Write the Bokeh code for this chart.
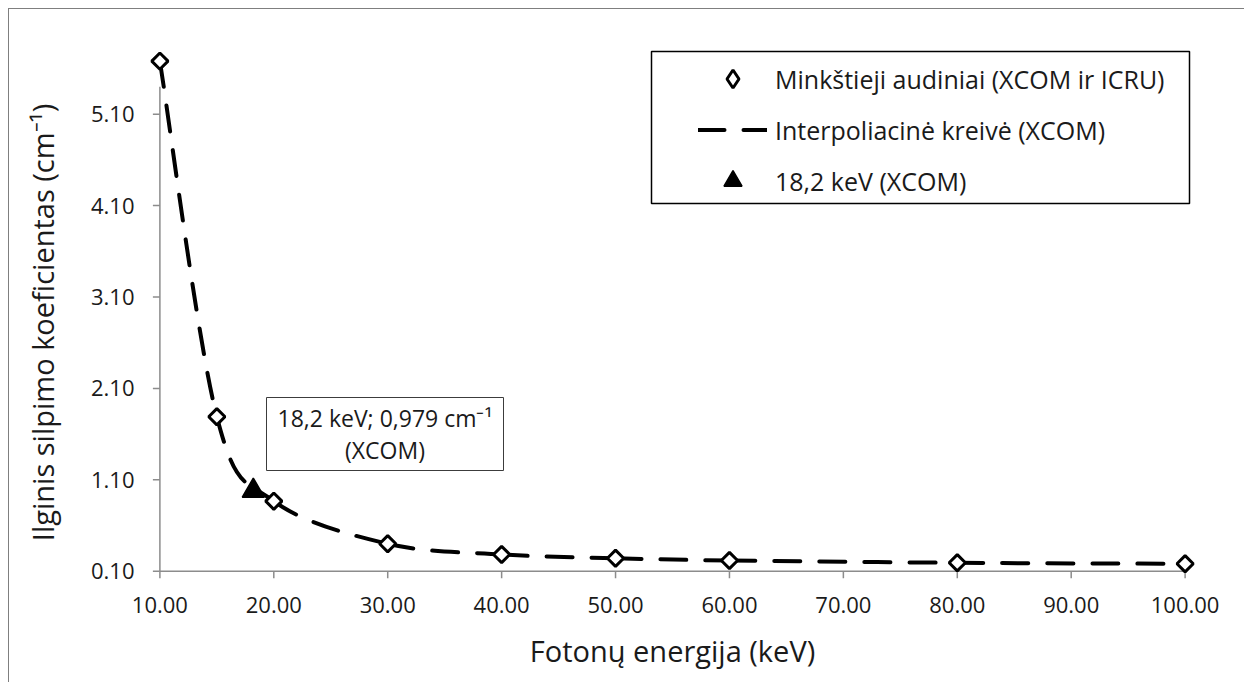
import numpy as np
from bokeh.plotting import figure
from bokeh.models import (Range1d, FixedTicker, NumeralTickFormatter, Legend,
                          LegendItem, BoxAnnotation, Label)
from bokeh.embed import file_html
from bokeh.resources import INLINE

# ---- data ----
energy_kev = [10, 15, 20, 30, 40, 50, 60, 80, 100]
mu_tissue = [5.68, 1.79, 0.866, 0.40, 0.283, 0.242, 0.217, 0.192, 0.181]
mark_energy = [18.2]
mark_mu = [0.979]
x_ticks = [10, 20, 30, 40, 50, 60, 70, 80, 90, 100]
y_ticks = [0.1, 1.1, 2.1, 3.1, 4.1, 5.1]
y_axis_max = 5.4

FONT = "Open Sans"
TXT = "#1a1a1a"
AX = "#8c8c8c"

p = figure(width=1236, height=674,
           x_range=Range1d(9, 101), y_range=Range1d(-0.2206, 5.8625),
           output_backend="svg", toolbar_location=None,
           min_border_left=139, min_border_right=49,
           min_border_top=35, min_border_bottom=83)
p.outline_line_color = None
p.grid.visible = False
p.background_fill_color = "white"
p.border_fill_color = "white"

# axes: tick labels and titles come from Bokeh axes
p.xaxis.ticker = FixedTicker(ticks=x_ticks)
p.yaxis.ticker = FixedTicker(ticks=y_ticks)
for ax in (p.xaxis, p.yaxis):
    ax.formatter = NumeralTickFormatter(format="0.00")
    ax.axis_line_color = None
    ax.major_tick_line_color = None
    ax.minor_tick_line_color = None
    ax.major_tick_in = 0
    ax.major_tick_out = 0
    ax.major_label_text_font = FONT
    ax.major_label_text_font_size = "22px"
    ax.major_label_text_color = TXT
    ax.axis_label_text_font = FONT
    ax.axis_label_text_font_style = "normal"
    ax.axis_label_text_font_size = "29px"
    ax.axis_label_text_color = TXT
p.xaxis.major_label_standoff = -4
p.yaxis.major_label_standoff = 14
p.xaxis.axis_label = "Fotonų energija (keV)"
p.yaxis.axis_label = "Ilginis silpimo koeficientas (cm⁻¹)"
p.xaxis.axis_label_standoff = 15
p.yaxis.axis_label_standoff = 26

# axis lines and tick marks at the data axes (x=10, y=0.10)
p.segment(x0=[x_ticks[0]], y0=[y_ticks[0]], x1=[x_ticks[-1]], y1=[y_ticks[0]],
          line_color=AX, line_width=1.5)
p.segment(x0=[x_ticks[0]], y0=[y_ticks[0]], x1=[x_ticks[0]], y1=[y_axis_max],
          line_color=AX, line_width=1.5)
p.ray(x=x_ticks, y=[y_ticks[0]] * len(x_ticks), length=7, length_units="screen",
      angle=-np.pi / 2, line_color=AX, line_width=1.5)
p.ray(x=[x_ticks[0]] * len(y_ticks), y=y_ticks, length=7, length_units="screen",
      angle=np.pi, line_color=AX, line_width=1.5)

# smoothed (Excel-like) curve through the data points, as Bezier segments
xs = np.array(energy_kev, dtype=float)
ys = np.array(mu_tissue, dtype=float)
n = len(xs)
x0, y0, x1, y1, cx0, cy0, cx1, cy1 = [], [], [], [], [], [], [], []
for i in range(n - 1):
    a = max(i - 1, 0)
    d = min(i + 2, n - 1)
    x0.append(xs[i]); y0.append(ys[i])
    x1.append(xs[i + 1]); y1.append(ys[i + 1])
    cx0.append(xs[i] + (xs[i + 1] - xs[a]) / 6.0)
    cy0.append(ys[i] + (ys[i + 1] - ys[a]) / 6.0)
    cx1.append(xs[i + 1] - (xs[d] - xs[i]) / 6.0)
    cy1.append(ys[i + 1] - (ys[d] - ys[i]) / 6.0)

curve = p.bezier(x0=x0, y0=y0, x1=x1, y1=y1, cx0=cx0, cy0=cy0, cx1=cx1, cy1=cy1,
                 line_color="black", line_width=4, line_dash="26 19",
                 line_cap="round")

pts = p.scatter(energy_kev, mu_tissue, marker="square", angle=np.pi / 4,
                size=11.5, fill_color="white", line_color="black", line_width=3)

tri = p.scatter(mark_energy, mark_mu, marker="triangle", size=22,
                fill_color="black", line_color="black", line_width=1.5)

# hidden legend proxy for the diamond marker (legend glyphs are drawn unrotated)
pts_key = p.scatter(energy_kev, mu_tissue, marker="diamond", size=20,
                    fill_color="white", line_color="black", line_width=3,
                    visible=False)

# legend frame
p.add_layout(BoxAnnotation(left=503, right=1041, top=549, bottom=397,
                           left_units="screen", right_units="screen",
                           top_units="screen", bottom_units="screen",
                           fill_color="white", fill_alpha=1.0,
                           line_color="black", line_alpha=1.0, line_width=1.5,
                           editable=False))

legend = Legend(items=[
    LegendItem(label="Minkštieji audiniai (XCOM ir ICRU)", renderers=[pts_key]),
    LegendItem(label="Interpoliacinė kreivė (XCOM)", renderers=[curve]),
    LegendItem(label="18,2 keV (XCOM)", renderers=[tri]),
], location=(550, 397), margin=0, padding=0,
    border_line_color=None, background_fill_alpha=0,
    inactive_fill_alpha=0,
    glyph_width=69, glyph_height=45, label_height=45, spacing=6,
    label_standoff=8, label_text_font=FONT, label_text_font_size="25px",
    label_text_color=TXT)
p.add_layout(legend)

# annotation box
p.add_layout(BoxAnnotation(left=118, right=355, top=203, bottom=130,
                           left_units="screen", right_units="screen",
                           top_units="screen", bottom_units="screen",
                           fill_color="white", fill_alpha=1.0,
                           line_color="#3c3c3c", line_alpha=1.0, line_width=1,
                           editable=False))
p.add_layout(Label(x=236.5, y=183, x_units="screen", y_units="screen",
                   text="18,2 keV; 0,979 cm⁻¹", text_align="center",
                   text_baseline="middle", text_font=FONT,
                   text_font_size="23px", text_color=TXT))
p.add_layout(Label(x=236.5, y=151, x_units="screen", y_units="screen",
                   text="(XCOM)", text_align="center",
                   text_baseline="middle", text_font=FONT,
                   text_font_size="23px", text_color=TXT))

p.styles = {"margin-left": "8px", "margin-top": "8px",
            "border-left": "1px solid #7f7f7f", "border-top": "1px solid #7f7f7f"}

open("out.html", "w").write(file_html(p, INLINE))
